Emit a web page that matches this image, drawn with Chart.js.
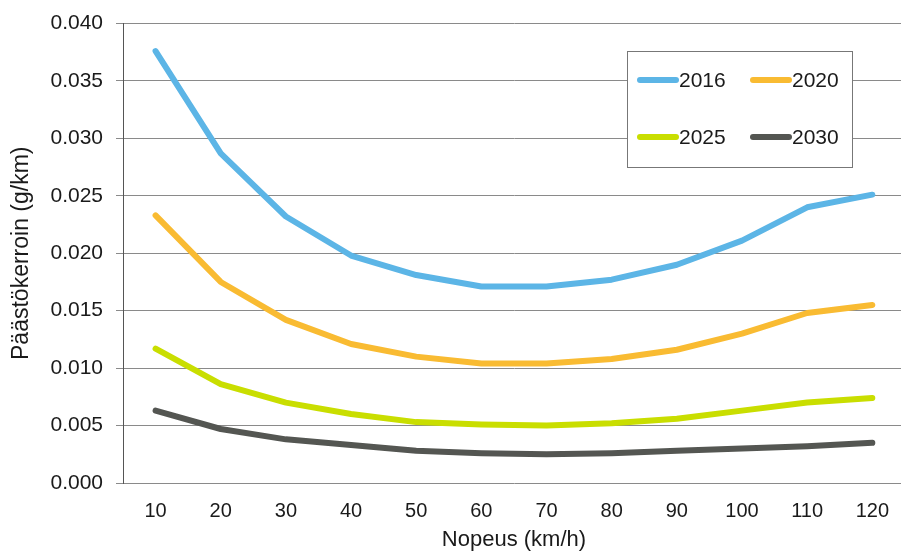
<!DOCTYPE html>
<html>
<head>
<meta charset="utf-8">
<script src="https://cdn.jsdelivr.net/npm/chart.js@4/dist/chart.umd.min.js"></script>
<style>
  html, body { margin: 0; padding: 0; background: #fff; overflow: hidden; }
  #wrap { width: 905px; height: 554px; }
</style>
</head>
<body>
<div id="wrap"><canvas id="chart" width="905" height="554"></canvas></div>
<script>
// Nopeus (km/h)
const speeds = ['10', '20', '30', '40', '50', '60', '70', '80', '90', '100', '110', '120'];

// Päästökerroin (g/km) per vuosi
const years = ['2016', '2020', '2025', '2030'];
const v2016 = [0.0376, 0.0287, 0.0232, 0.0198, 0.0181, 0.0171, 0.0171, 0.0177, 0.0190, 0.0211, 0.0240, 0.0251];
const v2020 = [0.0233, 0.0175, 0.0142, 0.0121, 0.0110, 0.0104, 0.0104, 0.0108, 0.0116, 0.0130, 0.0148, 0.0155];
const v2025 = [0.0117, 0.0086, 0.0070, 0.0060, 0.0053, 0.0051, 0.0050, 0.0052, 0.0056, 0.0063, 0.0070, 0.0074];
const v2030 = [0.0063, 0.0047, 0.0038, 0.0033, 0.0028, 0.0026, 0.0025, 0.0026, 0.0028, 0.0030, 0.0032, 0.0035];

const colors = ['#5cb5e6', '#f9bb32', '#c9de00', '#545652'];
const fontName = '"Liberation Sans", Arial, sans-serif';

// legend box drawn inside the plot (2 x 2)
const boxLegend = {
    id: 'boxLegend',
    afterDraw(chart) {
        const ctx = chart.ctx;
        const x0 = 627, y0 = 51, w = 225, h = 116;
        ctx.save();
        ctx.fillStyle = '#fff';
        ctx.fillRect(x0, y0, w, h);
        ctx.strokeStyle = '#777';
        ctx.lineWidth = 1;
        ctx.strokeRect(x0 + 0.5, y0 + 0.5, w, h);
        ctx.font = '21px ' + fontName;
        ctx.textBaseline = 'middle';
        ctx.lineCap = 'round';
        chart.data.datasets.forEach((ds, i) => {
            const col = i % 2, row = Math.floor(i / 2);
            const lx = x0 + 13 + col * 113;
            const ly = y0 + 29 + row * 57;
            ctx.strokeStyle = ds.borderColor;
            ctx.lineWidth = 6;
            ctx.beginPath();
            ctx.moveTo(lx, ly);
            ctx.lineTo(lx + 36, ly);
            ctx.stroke();
            ctx.fillStyle = '#1a1a1a';
            ctx.fillText(ds.label, lx + 39, ly + 1);
        });
        ctx.restore();
    }
};

const seriesValues = [v2016, v2020, v2025, v2030];

new Chart(document.getElementById('chart'), {
    type: 'line',
    data: {
        labels: speeds,
        datasets: years.map((y, i) => ({
            label: y,
            data: seriesValues[i],
            borderColor: colors[i],
            backgroundColor: colors[i],
            borderWidth: 6,
            borderCapStyle: 'round',
            borderJoinStyle: 'round',
            pointRadius: 0,
            tension: 0,
            fill: false
        }))
    },
    options: {
        responsive: false,
        animation: false,
        layout: { padding: { top: 23, right: 0, bottom: 0, left: 0 } },
        plugins: {
            legend: { display: false },
            tooltip: { enabled: false }
        },
        scales: {
            x: {
                offset: true,
                grid: { display: false, drawTicks: false },
                border: { display: false },
                ticks: { color: '#1a1a1a', font: { family: fontName, size: 20 }, padding: 16, maxRotation: 0 },
                title: { display: true, text: 'Nopeus (km/h)', color: '#1a1a1a', font: { family: fontName, size: 22 }, padding: { top: 0, bottom: 1 } },
                afterFit(scale) { scale.height = 71; }
            },
            y: {
                min: 0,
                max: 0.04,
                grid: { color: '#8a8a8a', lineWidth: 1, tickLength: 7, drawTicks: true },
                border: { display: true, color: '#555', width: 1 },
                ticks: {
                    stepSize: 0.005,
                    color: '#1a1a1a',
                    font: { family: fontName, size: 21, lineHeight: 1 },
                    padding: 13,
                    callback: v => v.toFixed(3)
                },
                title: { display: true, text: 'Päästökerroin (g/km)', color: '#1a1a1a', font: { family: fontName, size: 23 }, padding: { top: 8, bottom: 0 } },
                afterFit(scale) { scale.width = 123; }
            }
        }
    },
    plugins: [boxLegend]
});
</script>
</body>
</html>
